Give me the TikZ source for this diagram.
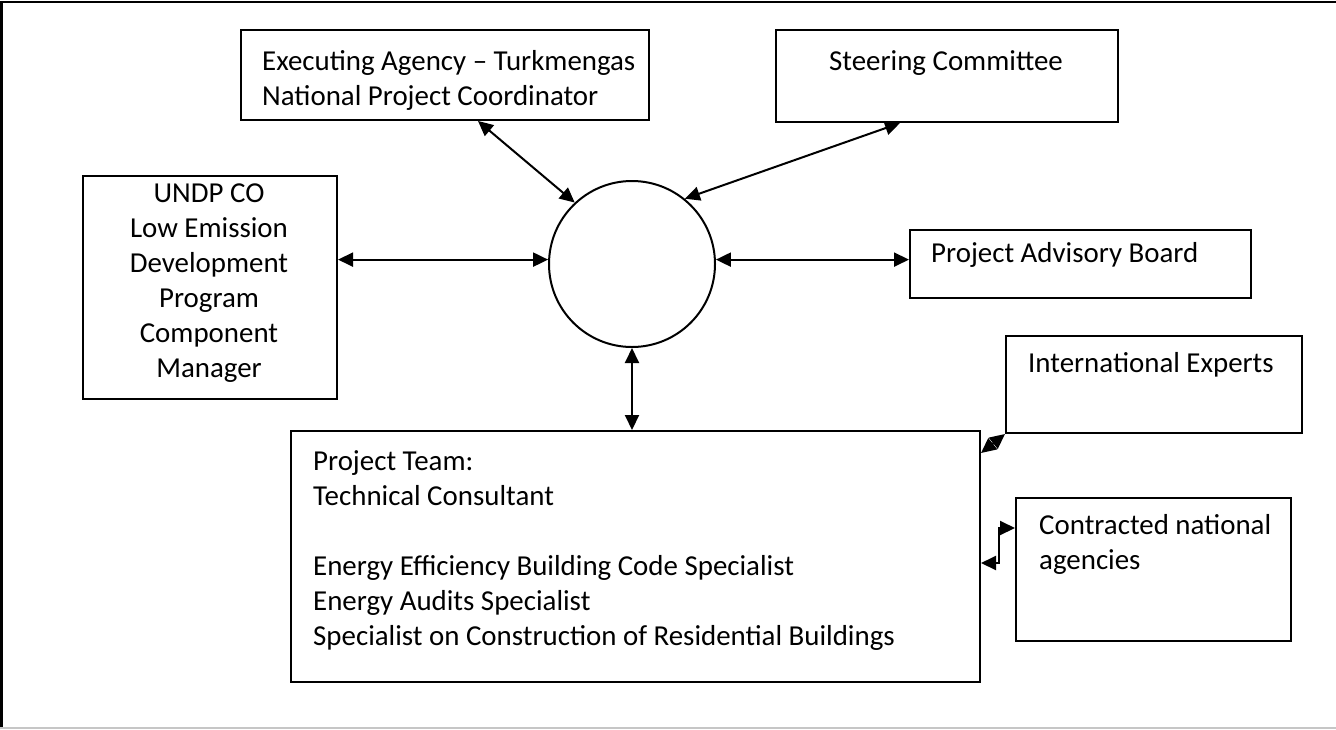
\documentclass[tikz,border=0pt]{standalone}
\usepackage{fontspec}
\setmainfont{Carlito}
\usetikzlibrary{arrows.meta,calc}
\begin{document}
\begin{tikzpicture}[x=1pt,y=-1pt,
  frame/.style={draw, line width=2pt, inner sep=0pt, anchor=north west},
  txt/.style={inner sep=0pt, font=\fontsize{28.9pt}{35pt}\selectfont, anchor=north west, align=left},
  ctxt/.style={txt, anchor=north, align=center},
  link/.style={line width=2pt, {Triangle[length=15pt,width=14pt]}-{Triangle[length=15pt,width=14pt]}}]
\useasboundingbox (0,0) rectangle (1336,729);
% page edges
\draw[line width=2.5pt] (1.5,729) -- (1.5,2) -- (1336,2);
\draw[gray!45, line width=2pt] (0,727.5) -- (1336,727.5);

% boxes
\node[frame, minimum width=408pt, minimum height=90pt] (exec) at (240,29) {};
\node[frame, minimum width=342pt, minimum height=92pt] (steer) at (775,29) {};
\node[frame, minimum width=254pt, minimum height=223pt] (undp) at (82,175) {};
\node[draw, circle, line width=2pt, inner sep=0pt, minimum size=166pt] (hub) at (632,264) {};
\node[frame, minimum width=341pt, minimum height=68pt] (adv) at (909,229) {};
\node[frame, minimum width=296pt, minimum height=97pt] (intl) at (1005,335) {};
\node[frame, minimum width=689pt, minimum height=251pt] (team) at (290,430) {};
\node[frame, minimum width=275pt, minimum height=143pt] (contr) at (1015,497) {};

% texts
\node[txt] (execT) at (262,45.5) {\strut Executing Agency – Turkmengas\\National Project Coordinator};
\node[ctxt] (steerT) at (946,45.5) {\strut Steering Committee};
\node[ctxt] (undpT) at (209,177.5) {\strut UNDP CO\\Low Emission\\Development\\Program\\Component\\Manager};
\node[txt] (advT) at (931,237.5) {\strut Project Advisory Board};
\node[txt] (intlT) at (1028,348) {\strut International Experts};
\node[txt] (teamT) at (313,445.5) {\strut Project Team:\\Technical Consultant\\[35pt]Energy Efficiency Building Code Specialist\\Energy Audits Specialist\\Specialist on Construction of Residential Buildings};
\node[txt] (contrT) at (1039,510) {\strut Contracted national\\agencies};

% connectors
\draw[link] ($(exec.south west)+(238,0)$) -- (hub.133);
\draw[link] ($(steer.south west)+(125,0)$) -- (hub.51);
\draw[link] (hub.177 -| undp.east) -- (hub.177);
\draw[link] (hub.3) -- (hub.3 -| adv.west);
\draw[link] (hub.south) -- (hub.south |- team.north);
\draw[link] (intl.south west) -- ($(team.north east)+(0,23)$);
\draw[link] ($(contr.north west)+(0,31)$) -| ($(team.north east)+(18,133)$) -- ($(team.north east)+(0,133)$);
\end{tikzpicture}
\end{document}
